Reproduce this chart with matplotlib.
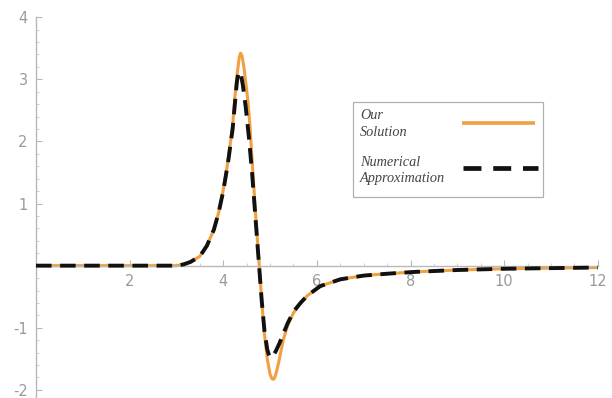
import matplotlib
matplotlib.use("Agg")
import matplotlib.pyplot as plt
from matplotlib.ticker import MultipleLocator
from matplotlib.patches import Rectangle

plt.rcParams["axes.unicode_minus"] = False

# values
x_ours = [0, 1, 2, 3.0, 3.15, 3.3, 3.5, 3.65, 3.8, 3.9, 4.0, 4.1, 4.2, 4.25, 4.3,
          4.34, 4.37, 4.4, 4.44, 4.48, 4.52, 4.57, 4.62, 4.68, 4.73, 4.77, 4.82,
          4.88, 4.94, 5.0, 5.04, 5.07, 5.1, 5.14, 5.2, 5.28, 5.38, 5.5, 5.65, 5.8,
          6.07, 6.5, 7.0, 7.5, 8.1, 9.0, 10.0, 11.0, 12.0]
y_ours = [0, 0, 0, 0.0, 0.02, 0.06, 0.15, 0.32, 0.58, 0.85, 1.22, 1.68, 2.25, 2.72, 3.1,
          3.35, 3.42, 3.38, 3.2, 2.95, 2.7, 2.25, 1.65, 0.95, 0.4, 0.0, -0.55,
          -1.1, -1.5, -1.75, -1.82, -1.83, -1.8, -1.7, -1.5, -1.2, -0.95, -0.76, -0.6, -0.48,
          -0.33, -0.22, -0.16, -0.13, -0.10, -0.07, -0.05, -0.04, -0.03]

x_num = [0, 1, 2, 3.0, 3.15, 3.3, 3.5, 3.65, 3.8, 3.9, 4.0, 4.1, 4.2, 4.25, 4.29,
         4.32, 4.35, 4.38, 4.42, 4.48, 4.55, 4.62, 4.68, 4.73, 4.77, 4.82, 4.88,
         4.94, 4.98, 5.01, 5.05, 5.12, 5.2, 5.28, 5.38, 5.5, 5.65, 5.8,
         6.07, 6.5, 7.0, 7.5, 8.1, 9.0, 10.0, 11.0, 12.0]
y_num = [0, 0, 0, 0.0, 0.02, 0.06, 0.15, 0.32, 0.58, 0.85, 1.2, 1.65, 2.2, 2.62, 2.95,
         3.1, 3.12, 3.07, 2.9, 2.55, 2.05, 1.45, 0.85, 0.35, -0.05, -0.55, -1.05,
         -1.35, -1.45, -1.48, -1.46, -1.38, -1.25, -1.1, -0.92, -0.74, -0.6, -0.48,
         -0.33, -0.22, -0.16, -0.13, -0.10, -0.07, -0.05, -0.04, -0.03]

x_ticks = [2, 4, 6, 8, 10, 12]
y_ticks = [-2, -1, 1, 2, 3, 4]
labels = ["Our\nSolution", "Numerical\nApproximation"]

orange = "#f0a040"
black = "#111111"
gray = "#9a9a9a"

fig = plt.figure(figsize=(6.12, 3.98), dpi=100)
ax = fig.add_axes([0.0588, 0.0, 0.918, 0.957])

ax.plot(x_ours, y_ours, color=orange, lw=2.2, zorder=2)
ax.plot(x_num, y_num, color=black, lw=2.8, dashes=(4, 2.2), zorder=3)

ax.set_xlim(0, 12)
ax.set_ylim(-2.13, 4)

for s in ["top", "right"]:
    ax.spines[s].set_visible(False)
ax.spines["left"].set_position(("data", 0))
ax.spines["bottom"].set_position(("data", 0))
for s in ["left", "bottom"]:
    ax.spines[s].set_color("#b8b8b8")
    ax.spines[s].set_linewidth(1.0)

ax.set_xticks(x_ticks)
ax.set_yticks(y_ticks)
ax.xaxis.set_minor_locator(MultipleLocator(0.5))
ax.yaxis.set_minor_locator(MultipleLocator(0.2))
ax.tick_params(which="major", direction="in", length=4, width=0.8,
               color="#b8b8b8", labelcolor=gray, labelsize=10.5, pad=6)
ax.tick_params(which="minor", direction="in", length=2, width=0.6,
               color="#c8c8c8")

# legend box drawn by hand: text on the left, line sample on the right
tf = ax.transAxes
ax.add_patch(Rectangle((0.564, 0.528), 0.338, 0.25, transform=tf,
                       facecolor="white", edgecolor="#b0b0b0", lw=0.9, zorder=5))
font = dict(family="Liberation Serif", style="italic", size=10.3, color="#444444",
            linespacing=1.35, va="center", ha="left", transform=tf, zorder=6)
ax.text(0.577, 0.719, labels[0], **font)
ax.text(0.577, 0.597, labels[1], **font)
ax.plot([0.758, 0.888], [0.7226, 0.7226], transform=tf, color=orange, lw=2.6,
        solid_capstyle="butt", zorder=6)
ax.plot([0.760, 0.894], [0.6037, 0.6037], transform=tf, color=black, lw=3.4,
        dashes=(3.8, 2.5), zorder=6)

fig.savefig("out.png", dpi=100)
